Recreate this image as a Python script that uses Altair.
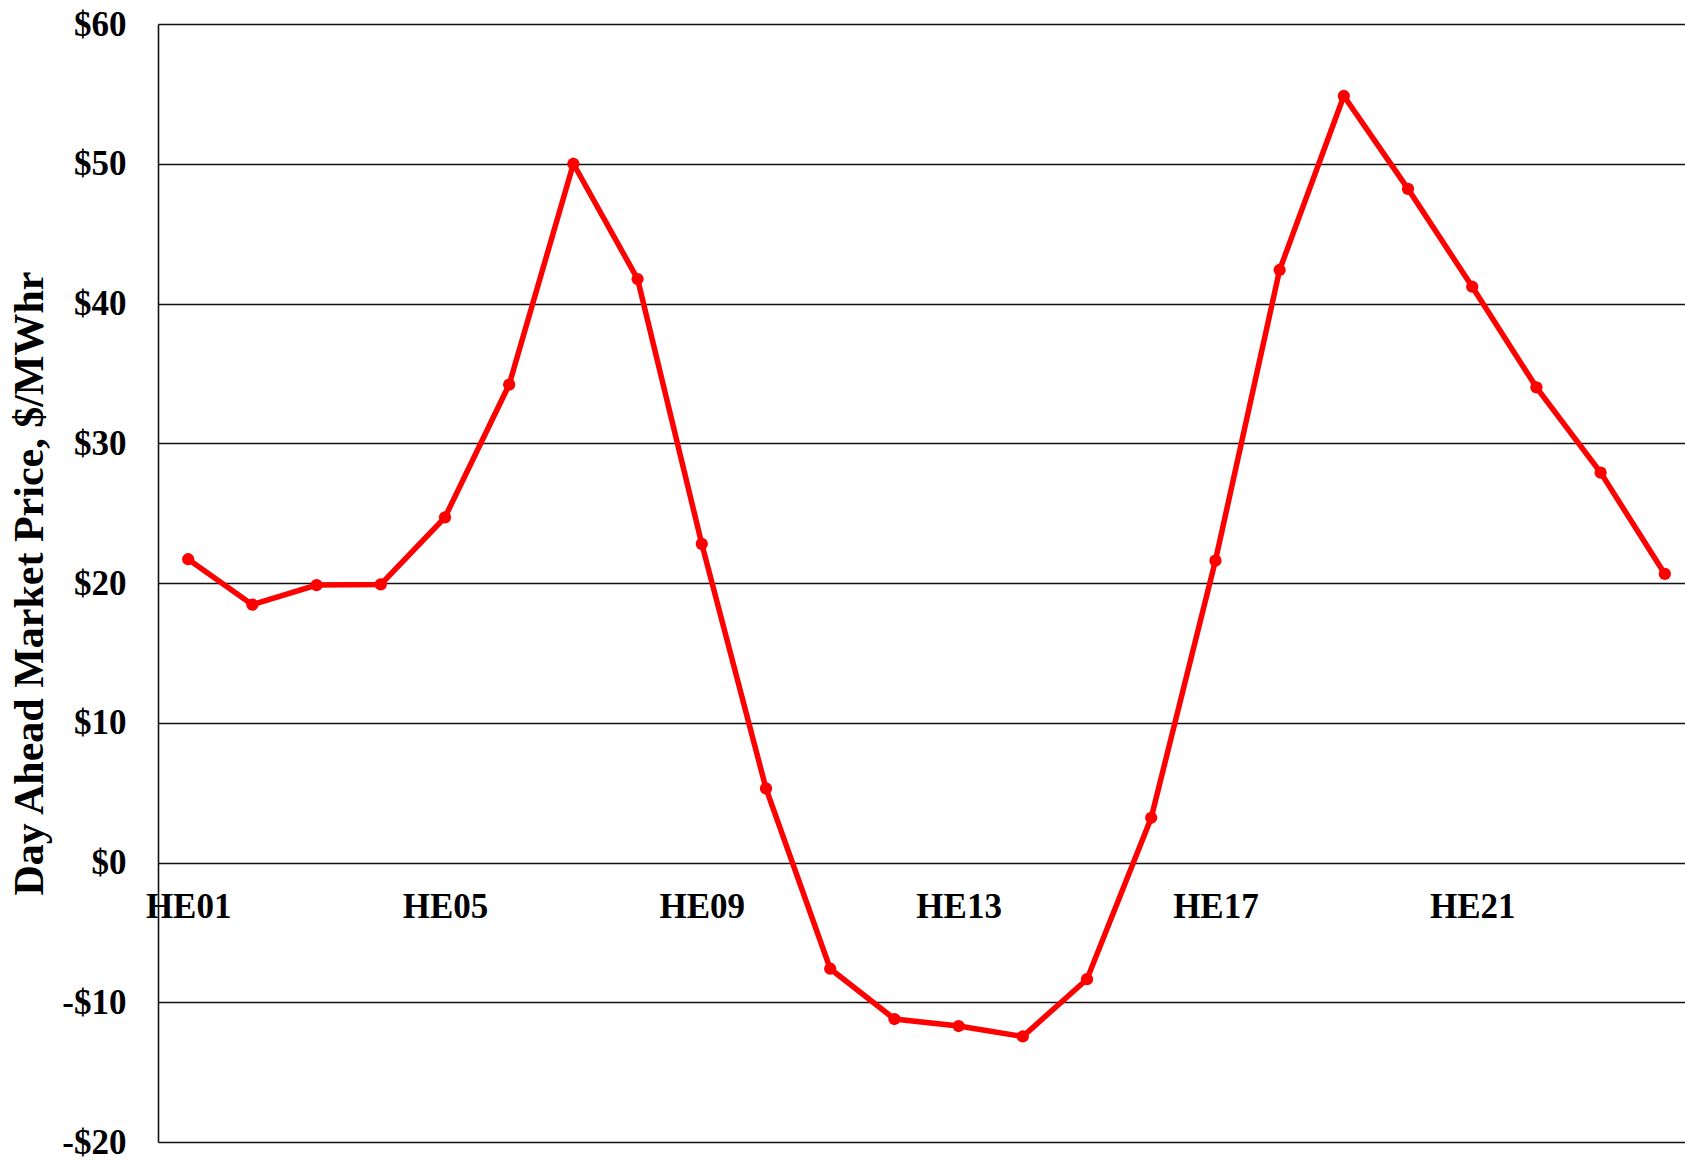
import altair as alt
import pandas as pd

hours = ["HE01", "HE02", "HE03", "HE04", "HE05", "HE06", "HE07", "HE08",
         "HE09", "HE10", "HE11", "HE12", "HE13", "HE14", "HE15", "HE16",
         "HE17", "HE18", "HE19", "HE20", "HE21", "HE22", "HE23", "HE24"]
prices = [21.7, 18.45, 19.85, 19.9, 24.7, 34.2, 50.0, 41.75,
          22.8, 5.3, -7.6, -11.2, -11.7, -12.45, -8.35, 3.2,
          21.6, 42.4, 54.85, 48.2, 41.2, 34.0, 27.9, 20.65]
x_label_values = ["HE01", "HE05", "HE09", "HE13", "HE17", "HE21"]
y_ticks = [-20, -10, 0, 10, 20, 30, 40, 50, 60]

df = pd.DataFrame({"hour": hours, "price": prices})

FONT = "Liberation Serif"
W, H = 1527, 1118
zero_offset = -(H * 20 / 80)

x_enc = alt.X(
    "hour:O",
    sort=hours,
    scale=alt.Scale(type="point", padding=0.47, range=[0, 1537]),
    axis=alt.Axis(
        title=None,
        values=x_label_values,
        labelAngle=0,
        labelFont=FONT,
        labelFontSize=35,
        labelFontWeight="bold",
        labelColor="black",
        labelPadding=27,
        ticks=False,
        domain=False,
        grid=False,
        offset=zero_offset,
        labelOverlap=False,
    ),
)
y_enc = alt.Y(
    "price:Q",
    scale=alt.Scale(domain=[-20, 60], nice=False, zero=False),
    axis=alt.Axis(
        title="Day Ahead Market Price, $/MWhr",
        values=y_ticks,
        labelExpr="(datum.value < 0 ? '-$' : '$') + abs(datum.value)",
        labelFont=FONT,
        labelFontSize=35,
        labelFontWeight="bold",
        labelColor="black",
        labelPadding=32,
        ticks=False,
        domain=True,
        domainColor="#111111",
        domainWidth=1.6,
        grid=True,
        gridColor="#111111",
        gridWidth=1.5,
        gridOpacity=1,
        titleFont=FONT,
        titleFontSize=42,
        titleFontWeight="bold",
        titleColor="black",
        titleBaseline="top",
        titleAlign="center",
        titleX=-149,
        titleY=H / 2,
        labelOverlap=False,
    ),
)

base = alt.Chart(df)
line = base.mark_line(color="#ff0000", strokeWidth=5.5).encode(x=x_enc, y=y_enc)
pts = base.mark_circle(color="#ff0000", size=150, opacity=1).encode(x=x_enc, y=y_enc)

chart = alt.layer(line, pts).properties(
    width=W,
    height=H,
    autosize=alt.AutoSizeParams(type="none"),
    padding={"left": 158, "top": 24, "right": 0, "bottom": 18},
    background="white",
).configure_view(strokeWidth=0)

chart.save("out.html", embed_options={"renderer": "svg", "actions": False})
